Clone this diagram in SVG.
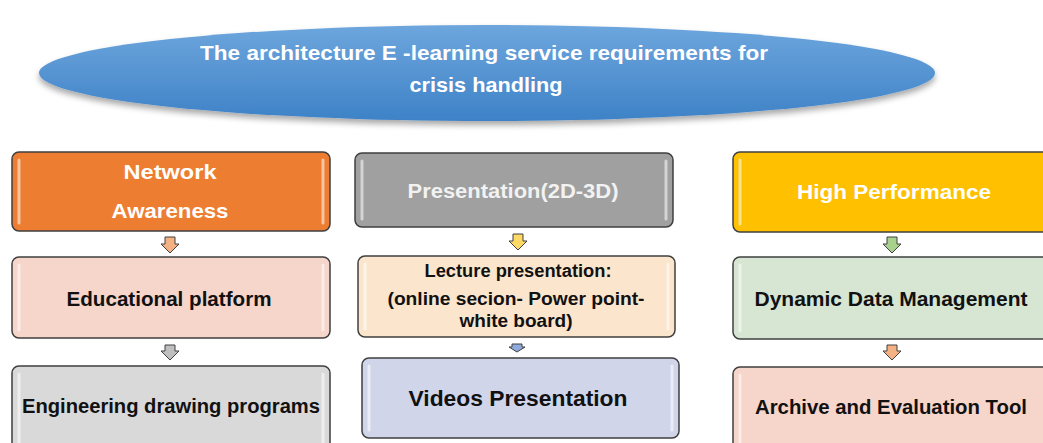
<svg xmlns="http://www.w3.org/2000/svg" width="1043" height="443" viewBox="0 0 1043 443">
<defs>
<linearGradient id="blue" x1="0" y1="0" x2="0" y2="1">
<stop offset="0" stop-color="#6EA6DD"/>
<stop offset="1" stop-color="#3E82C7"/>
</linearGradient>
<filter id="sh" x="-5%" y="-20%" width="110%" height="150%">
<feGaussianBlur in="SourceAlpha" stdDeviation="3"/>
<feOffset dx="0" dy="4"/>
<feComponentTransfer><feFuncA type="linear" slope="0.35"/></feComponentTransfer>
<feMerge><feMergeNode/><feMergeNode in="SourceGraphic"/></feMerge>
</filter>
</defs>
<style>
.box{stroke:#3F3F3F;stroke-width:1.5}
.hl{stroke:#FFFFFF;stroke-opacity:0.55;stroke-width:3;stroke-linecap:round}
.t{font-family:"Liberation Sans",Arial,sans-serif;font-weight:bold;text-anchor:middle}
.w{fill:#FFFFFF}
.g{fill:#F2F2F2}
.k{fill:#111111}
.arr{stroke:#404040;stroke-width:1}
</style>
<rect width="1043" height="443" fill="#FFFFFF"/>
<g id="title">
<ellipse cx="487" cy="73" rx="448" ry="48" fill="url(#blue)" filter="url(#sh)"/>
<text class="t w" x="484" y="60" font-size="21" textLength="568" lengthAdjust="spacingAndGlyphs">The architecture E -learning service requirements for</text>
<text class="t w" x="486" y="92" font-size="21" textLength="153" lengthAdjust="spacingAndGlyphs">crisis handling</text>
</g>
<g id="network-awareness">
<rect class="box" x="12" y="152" width="318" height="79" rx="7" fill="#ED7D31"/>
<line class="hl" x1="19" y1="160" x2="19" y2="223"/><line class="hl" x1="323" y1="160" x2="323" y2="223"/>
<text class="t w" x="170" y="179" font-size="21" textLength="93" lengthAdjust="spacingAndGlyphs">Network</text>
<text class="t w" x="170" y="218" font-size="21" textLength="117" lengthAdjust="spacingAndGlyphs">Awareness</text>
</g>
<g id="educational-platform">
<rect class="box" x="12" y="257" width="318" height="81" rx="7" fill="#F6D5CA"/>
<line class="hl" x1="19" y1="265" x2="19" y2="330"/><line class="hl" x1="323" y1="265" x2="323" y2="330"/>
<text class="t k" x="169" y="306" font-size="20" textLength="205" lengthAdjust="spacingAndGlyphs">Educational platform</text>
</g>
<g id="engineering-drawing">
<rect class="box" x="12" y="366" width="318" height="90" rx="7" fill="#D9D9D9"/>
<line class="hl" x1="19" y1="374" x2="19" y2="450"/><line class="hl" x1="323" y1="374" x2="323" y2="450"/>
<text class="t k" x="171" y="413" font-size="20" textLength="298" lengthAdjust="spacingAndGlyphs">Engineering drawing programs</text>
</g>
<g id="presentation-2d-3d">
<rect class="box" x="355" y="153" width="318" height="74" rx="7" fill="#A0A0A0"/>
<line class="hl" x1="362" y1="161" x2="362" y2="219"/><line class="hl" x1="666" y1="161" x2="666" y2="219"/>
<text class="t g" x="513" y="198" font-size="20" textLength="211" lengthAdjust="spacingAndGlyphs">Presentation(2D-3D)</text>
</g>
<g id="lecture-presentation">
<rect class="box" x="358" y="256" width="317" height="81" rx="7" fill="#FBE5CD"/>
<line class="hl" x1="365" y1="264" x2="365" y2="329"/><line class="hl" x1="668" y1="264" x2="668" y2="329"/>
<text class="t k" x="518" y="277" font-size="17.5" textLength="187" lengthAdjust="spacingAndGlyphs">Lecture presentation:</text>
<text class="t k" x="516" y="305" font-size="17.5" textLength="257" lengthAdjust="spacingAndGlyphs">(online secion-  Power point-</text>
<text class="t k" x="516" y="327" font-size="17.5" textLength="113" lengthAdjust="spacingAndGlyphs">white board)</text>
</g>
<g id="videos-presentation">
<rect class="box" x="362" y="358" width="317" height="80" rx="7" fill="#D0D5EA"/>
<line class="hl" x1="369" y1="366" x2="369" y2="430"/><line class="hl" x1="672" y1="366" x2="672" y2="430"/>
<text class="t k" x="518" y="406" font-size="22" textLength="219" lengthAdjust="spacingAndGlyphs">Videos Presentation</text>
</g>
<g id="high-performance">
<rect class="box" x="733" y="152" width="330" height="80" rx="7" fill="#FFC000"/>
<line class="hl" x1="740" y1="160" x2="740" y2="224"/>
<text class="t w" x="894" y="199" font-size="21" textLength="194" lengthAdjust="spacingAndGlyphs">High Performance</text>
</g>
<g id="dynamic-data-management">
<rect class="box" x="733" y="257" width="330" height="82" rx="7" fill="#D7E5D3"/>
<line class="hl" x1="740" y1="265" x2="740" y2="331"/>
<text class="t k" x="891" y="306" font-size="20" textLength="273" lengthAdjust="spacingAndGlyphs">Dynamic Data Management</text>
</g>
<g id="archive-evaluation">
<rect class="box" x="733" y="367" width="330" height="90" rx="7" fill="#F6D5CA"/>
<line class="hl" x1="740" y1="375" x2="740" y2="450"/>
<text class="t k" x="891" y="414" font-size="20" textLength="272" lengthAdjust="spacingAndGlyphs">Archive and Evaluation Tool</text>
</g>
<g id="connectors">
<path class="arr" fill="#F4B183" d="M165,237 h10 v7 h4 l-9,9 l-9,-9 h4 z"/>
<path class="arr" fill="#BFBFBF" d="M165,345 h10 v6 h4 l-9,9 l-9,-9 h4 z"/>
<path class="arr" fill="#FFD966" d="M513,234 h10 v7 h4 l-9,9 l-9,-9 h4 z"/>
<path class="arr" fill="#8FAADC" d="M512,344 h10 v3 h3 l-8,5 l-8,-5 h3 z"/>
<path class="arr" fill="#A9D18E" d="M887,237 h10 v7 h4 l-9,9 l-9,-9 h4 z"/>
<path class="arr" fill="#F4B183" d="M887,345 h10 v6 h4 l-9,9 l-9,-9 h4 z"/>
</g>
</svg>
